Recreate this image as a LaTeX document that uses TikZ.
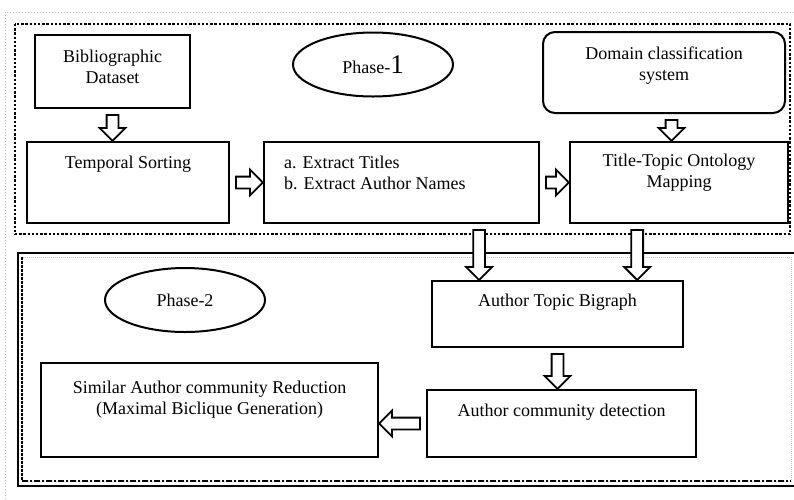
\documentclass[tikz,border=0pt]{standalone}
\usepackage{fontspec}
\setmainfont{Liberation Serif}
\usetikzlibrary{
    shapes,
    shapes.geometric,
    shapes.arrows,
    positioning,
    calc
}
\tikzset{
  basic/.style = {
      draw,
      rectangle,
      line width=2pt,
      inner sep=0pt
  },
  round/.style = {
      basic,
      rounded corners=12pt
  },
  phase/.style = {
      draw,
      ellipse,
      line width=2pt,
      inner sep=0pt,
      minimum width=160pt,
      minimum height=64pt
  },
  boxtext/.style 2 args = {
      label={[anchor=north, align=center, inner sep=0pt, yshift=-#2]north:{#1}}
  },
  arrowshape/.style = {
      single arrow,
      draw,
      fill=white,
      line width=1.8pt,
      inner xsep=0pt,
      inner ysep=5pt,
      single arrow head extend=7pt,
      single arrow tip angle=90,
      anchor=center
  },
  blockarrow/.style = {
      to path={
        let \p1=($(\tikztotarget)-(\tikztostart)$),
            \n1={veclen(\x1,\y1)-6},
            \n2={atan2(\y1,\x1)}
        in node[arrowshape, minimum height=\n1, rotate=\n2]
           at ($(\tikztostart)!0.5!(\tikztotarget)$) {}
      }
  }
}

\begin{document}
\begin{tikzpicture}[x=1pt, y=-1pt, font=\fontsize{18}{21}\selectfont]
    \useasboundingbox (0,0) rectangle (794,499);
    % Frames
    \draw[gray!50, line width=1pt, dotted] (5,499) -- (5,12) -- (794,12);
    \draw[line width=2.4pt, dash pattern=on 2.4pt off 1.8pt] (15,24) rectangle (790,234);
    \draw[gray!40, line width=1pt, densely dotted] (22,257) rectangle (791,481);
    \draw[line width=2pt, dash pattern=on 6pt off 2pt on 2pt off 2pt] (22,481) -- (791,481);
    \draw[line width=2pt, dash pattern=on 3pt off 1pt] (22,257) -- (22,481);
    \draw[line width=2pt] (794,253) -- (18,253) -- (18,486) -- (794,486);
    % Phase 1
    \node[phase] (ph1) at (373,64.5) {Phase-{\fontsize{27}{27}\selectfont 1}};
    \node[basic, minimum width=155pt, minimum height=73pt,
          boxtext={Bibliographic\\Dataset}{16pt}] (bib) at (112.5,71.5) {};
    \node[round, minimum width=242pt, minimum height=81pt,
          boxtext={Domain classification\\system}{16pt}] (domain) at (664,72.5) {};
    \node[basic, minimum width=202pt, minimum height=81pt,
          boxtext={Temporal Sorting}{15pt}] (sort) at (128,182.5) {};
    \node[basic, minimum width=275pt, minimum height=81pt,
          label={[anchor=north west, align=left, inner sep=0pt, xshift=21pt, yshift=-15pt]north west:{a. Extract Titles\\b. Extract Author Names}}] (extract) at (401.5,182.5) {};
    \node[basic, minimum width=218pt, minimum height=81pt,
          boxtext={Title-Topic Ontology\\Mapping}{13pt}] (topo) at (679,182.5) {};
    % Phase 2
    \node[phase] (ph2) at (185,300) {Phase-2};
    \node[basic, minimum width=251pt, minimum height=66pt,
          boxtext={Author Topic Bigraph}{14pt}] (bigraph) at (557.5,314) {};
    \node[basic, minimum width=269pt, minimum height=67pt,
          boxtext={Author community detection}{15pt}] (detect) at (561.5,423.5) {};
    \node[basic, minimum width=337pt, minimum height=94pt,
          boxtext={Similar Author community Reduction\\(Maximal Biclique Generation)}{19pt}] (similar) at (209.5,410) {};
    % Arrows
    \coordinate (a4) at ($(domain.south)!0.5!(topo.north)$);
    \coordinate (a5) at ($(extract.south east)!0.22!(extract.south west)$);
    \coordinate (a6) at ($(topo.south west)!0.31!(topo.south east)$);
    \draw[blockarrow] (bib.south) to (bib.south |- sort.north);
    \draw[blockarrow] (sort.east) to (extract.west);
    \draw[blockarrow] (extract.east) to (topo.west);
    \draw[blockarrow] (a4 |- domain.south) to (a4 |- topo.north);
    \draw[blockarrow] (a5) to (a5 |- bigraph.north);
    \draw[blockarrow] (a6) to (a6 |- bigraph.north);
    \draw[blockarrow] (bigraph.south) to (bigraph.south |- detect.north);
    \draw[blockarrow] (detect.west) to (detect.west -| similar.east);
\end{tikzpicture}
\end{document}
